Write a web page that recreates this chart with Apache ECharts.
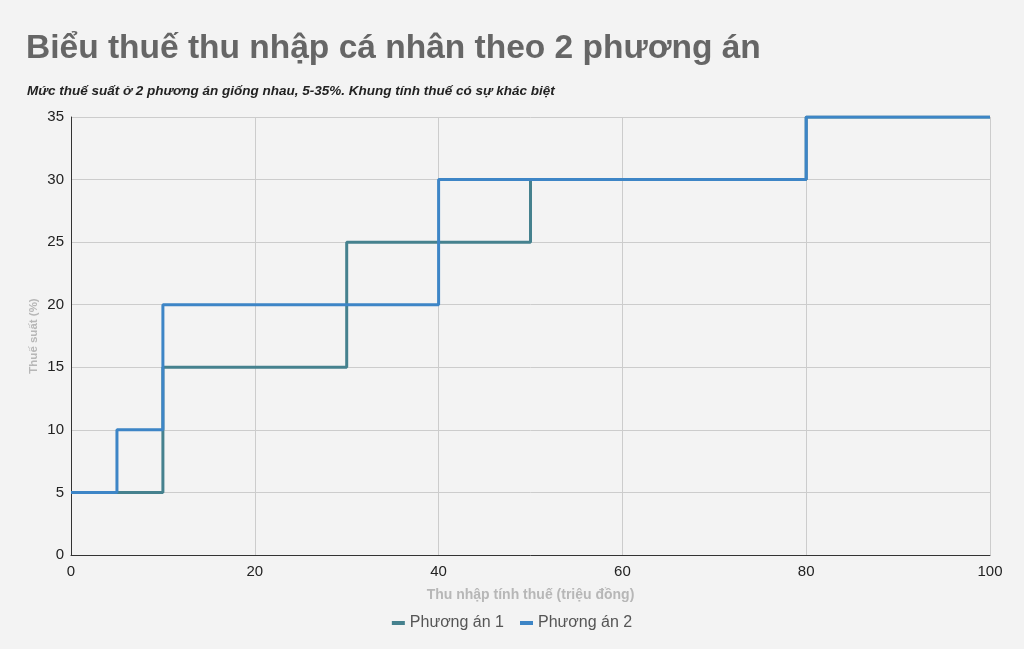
<!DOCTYPE html>
<html>
<head>
<meta charset="utf-8">
<script src="https://cdn.jsdelivr.net/npm/echarts@6/dist/echarts.min.js"></script>
<style>
  html, body { margin: 0; padding: 0; background: #f3f3f3; }
  #chart { width: 1024px; height: 649px; }
</style>
</head>
<body>
<div id="chart"></div>
<script>
// income thresholds (triệu đồng) and tax rates (%)
var incomePA1 = [0, 10, 30, 50, 80, 100];
var ratePA1 = [5, 15, 25, 30, 35, 35];
var incomePA2 = [0, 5, 10, 40, 80, 100];
var ratePA2 = [5, 10, 20, 30, 35, 35];
var xTicks = [0, 20, 40, 60, 80, 100];
var yTicks = [0, 5, 10, 15, 20, 25, 30, 35];

function pairs(xs, ys) {
    return xs.map(function (x, i) { return [x, ys[i]]; });
}

var myChart = echarts.init(document.getElementById('chart'));

var option = {
    backgroundColor: '#f3f3f3',
    animation: false,
    title: [
        {
            text: 'Biểu thuế thu nhập cá nhân theo 2 phương án',
            left: 21,
            top: 27,
            textStyle: {
                fontFamily: 'Liberation Sans',
                fontSize: 33.5,
                fontWeight: 'bold',
                color: '#666666'
            }
        },
        {
            text: 'Mức thuế suất ở 2 phương án giống nhau, 5-35%. Khung tính thuế có sự khác biệt',
            left: 22,
            top: 79,
            textStyle: {
                fontFamily: 'Liberation Sans',
                fontSize: 13.5,
                fontWeight: 'bold',
                fontStyle: 'italic',
                color: '#222222'
            }
        }
    ],
    legend: {
        bottom: 13,
        left: 'center',
        itemWidth: 13,
        itemHeight: 4,
        itemGap: 16,
        icon: 'rect',
        textStyle: {
            fontFamily: 'Liberation Sans',
            fontSize: 16,
            color: '#555555'
        },
        data: ['Phương án 1', 'Phương án 2']
    },
    grid: {
        left: 71,
        right: 34,
        top: 117,
        bottom: 94
    },
    xAxis: {
        type: 'value',
        min: xTicks[0],
        max: xTicks[xTicks.length - 1],
        interval: 20,
        name: 'Thu nhập tính thuế (triệu đồng)',
        nameLocation: 'middle',
        nameGap: 33,
        nameTextStyle: {
            fontFamily: 'Liberation Sans',
            fontSize: 14,
            fontWeight: 'bold',
            color: '#b7b7b7'
        },
        axisLine: { show: true, onZero: false, lineStyle: { color: '#333333', width: 1 } },
        axisTick: { show: false },
        axisLabel: {
            fontFamily: 'Liberation Sans',
            fontSize: 15,
            color: '#222222',
            margin: 9
        },
        splitLine: { show: true, lineStyle: { color: '#cccccc' } }
    },
    yAxis: {
        type: 'value',
        min: yTicks[0],
        max: yTicks[yTicks.length - 1],
        interval: 5,
        name: 'Thuế suất (%)',
        nameLocation: 'middle',
        nameGap: 31,
        nameMoveOverlap: false,
        nameTextStyle: {
            fontFamily: 'Liberation Sans',
            fontSize: 11.5,
            fontWeight: 'bold',
            color: '#b7b7b7'
        },
        axisLine: { show: true, lineStyle: { color: '#333333', width: 1 } },
        axisTick: { show: false },
        axisLabel: {
            fontFamily: 'Liberation Sans',
            fontSize: 15,
            color: '#222222',
            margin: 7
        },
        splitLine: { show: true, lineStyle: { color: '#cccccc' } }
    },
    series: [
        {
            name: 'Phương án 1',
            type: 'line',
            step: 'end',
            symbol: 'none',
            color: '#45818e',
            lineStyle: { width: 3, color: '#45818e' },
            data: pairs(incomePA1, ratePA1)
        },
        {
            name: 'Phương án 2',
            type: 'line',
            step: 'end',
            symbol: 'none',
            color: '#3d85c6',
            lineStyle: { width: 3, color: '#3d85c6' },
            data: pairs(incomePA2, ratePA2)
        }
    ]
};

myChart.setOption(option);
</script>
</body>
</html>
